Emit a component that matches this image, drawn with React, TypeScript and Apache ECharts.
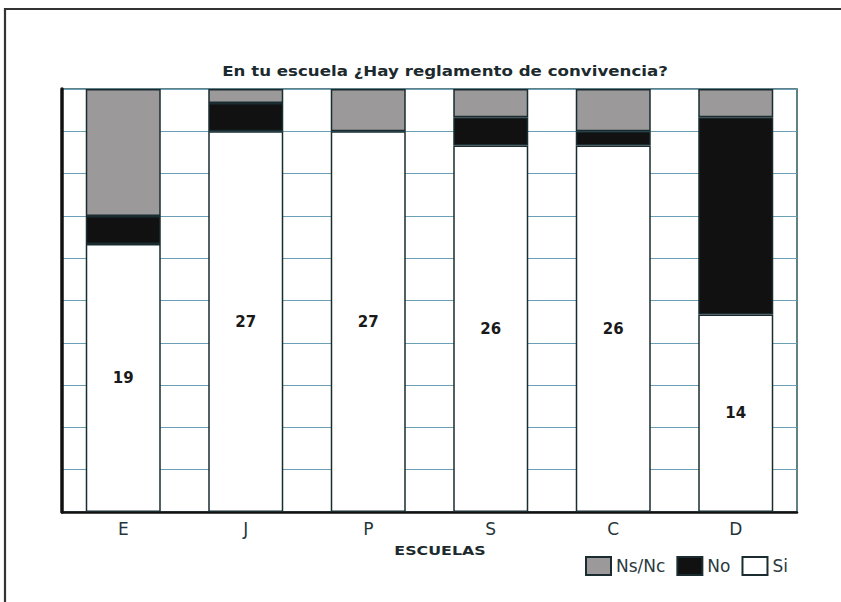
import React, { useEffect, useRef } from "react";
import * as echarts from "echarts";

const categories = ["E", "J", "P", "S", "C", "D"];
const siValues = [19, 27, 27, 26, 26, 14];
const noValues = [2, 2, 0, 2, 1, 14];
const nsncValues = [9, 1, 3, 2, 3, 2];
const yTicks = [0, 3, 6, 9, 12, 15, 18, 21, 24, 27, 30];

const titleText = "En tu escuela ¿Hay reglamento de convivencia?";
const xName = "ESCUELAS";

const hideZero = (arr: number[]) => arr.map((v) => (v === 0 ? "-" : v));

export default function App() {
  const ref = useRef<HTMLDivElement>(null);
  useEffect(() => {
    const chart = echarts.init(ref.current!, undefined, { renderer: "svg" });
    const border = { borderColor: "#1a2c30", borderWidth: 1.5 };
    chart.setOption({
      animation: false,
      backgroundColor: "#ffffff",
      grid: {
        left: 62,
        right: 44,
        top: 89,
        bottom: 90,
        show: true,
        borderColor: "#2d5560",
        borderWidth: 1.5,
      },
      graphic: [
        {
          type: "rect",
          shape: { x: 5, y: 9, width: 900, height: 700 },
          style: { fill: "none", stroke: "#333333", lineWidth: 2.2 },
          silent: true,
          z: 100,
        },
        {
          type: "text",
          x: 445,
          y: 71,
          scaleX: 1.19,
          style: {
            text: titleText,
            fontFamily: "DejaVu Sans",
            fontWeight: "bold",
            fontSize: 14,
            fill: "#1c2a2e",
            textAlign: "center",
            textVerticalAlign: "middle",
          },
        },
        {
          type: "text",
          x: 440,
          y: 551,
          scaleX: 1.32,
          style: {
            text: xName,
            fontFamily: "DejaVu Sans",
            fontWeight: "bold",
            fontSize: 12,
            fill: "#1c2a2e",
            textAlign: "center",
            textVerticalAlign: "middle",
          },
        },
      ],
      legend: {
        left: 585,
        top: 556,
        padding: 0,
        itemWidth: 25,
        itemHeight: 18,
        itemGap: 11,
        icon: "rect",
        data: ["Ns/Nc", "No", "Si"],
        textStyle: {
          fontFamily: "DejaVu Sans",
          fontSize: 17,
          color: "#2a3a40",
          padding: [0, 0, 0, 0],
        },
      },
      xAxis: {
        type: "category",
        data: categories,
        axisLine: { show: true, lineStyle: { color: "#111111", width: 2.5 } },
        axisTick: { show: false },
        axisLabel: {
          margin: 8,
          fontFamily: "DejaVu Sans",
          fontSize: 17,
          color: "#24343a",
        },
      },
      yAxis: {
        type: "value",
        min: yTicks[0],
        max: yTicks[yTicks.length - 1],
        interval: yTicks[1] - yTicks[0],
        axisLine: { show: true, lineStyle: { color: "#111111", width: 3.5 } },
        axisTick: { show: false },
        axisLabel: { show: false },
        splitLine: { show: true, lineStyle: { color: "#6a9fb5", width: 1 } },
      },
      series: [
        {
          name: "Si",
          type: "bar",
          stack: "total",
          data: hideZero(siValues),
          barWidth: 75,
          itemStyle: { color: "#ffffff", ...border },
          label: {
            show: true,
            position: "inside",
            fontFamily: "DejaVu Sans",
            fontWeight: "bold",
            fontSize: 15,
            color: "#1a1a1a",
          },
        },
        {
          name: "No",
          type: "bar",
          stack: "total",
          data: hideZero(noValues),
          barWidth: 75,
          itemStyle: { color: "#111111", ...border },
        },
        {
          name: "Ns/Nc",
          type: "bar",
          stack: "total",
          data: hideZero(nsncValues),
          barWidth: 75,
          itemStyle: { color: "#9b9999", ...border },
        },
      ],
    });
    return () => chart.dispose();
  }, []);
  return (
    <div
      ref={ref}
      style={{ position: "absolute", left: 0, top: 0, width: 841, height: 602 }}
    />
  );
}
